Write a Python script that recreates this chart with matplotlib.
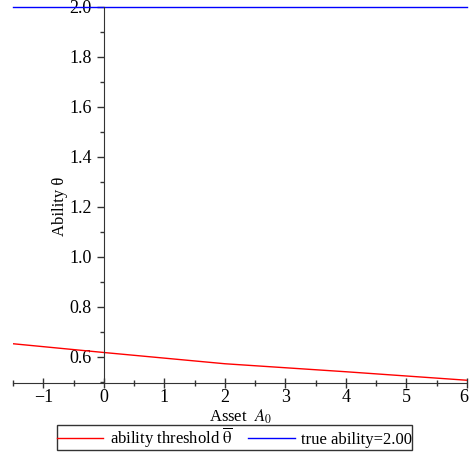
import matplotlib
matplotlib.use("Agg")
import matplotlib.pyplot as plt
import matplotlib.transforms as mtransforms
import numpy as np
from matplotlib.ticker import MultipleLocator, FormatStrFormatter, FuncFormatter

plt.rcParams['font.family'] = ['Liberation Serif', 'DejaVu Serif']
plt.rcParams['mathtext.fontset'] = 'stix'

# data
asset = [-1.5, 0, 2, 4, 6]
threshold = [0.652, 0.617, 0.572, 0.540, 0.506]
true_ability = 2.00

fig = plt.figure(figsize=(4.69, 4.59), dpi=100)
ax = fig.add_axes([13/469, 76/459, 454/469, 376.3/459])

ax.plot(asset, threshold, color='red', lw=1, label=r'ability threshold $\overline{\mathrm{\theta}}$')
ax.axhline(true_ability, color='blue', lw=1, label='true ability=2.00', clip_on=False)

ax.set_xlim(-1.5, 6)
ax.set_ylim(0.495, 2.0)

ax.spines['left'].set_position(('data', 0))
ax.spines['bottom'].set_position(('data', 0.495))
ax.spines['top'].set_visible(False)
ax.spines['right'].set_visible(False)
for s in ('left', 'bottom'):
    ax.spines[s].set_color('#333333')

ax.xaxis.set_major_locator(MultipleLocator(1))
ax.xaxis.set_minor_locator(MultipleLocator(0.5))
ax.yaxis.set_minor_locator(MultipleLocator(0.1))
ax.yaxis.set_major_formatter(FormatStrFormatter('%.1f'))
ax.xaxis.set_major_formatter(FuncFormatter(lambda v, p: f'{int(round(v))}'.replace('-', '\u2212')))
ax.set_yticks([0.6, 0.8, 1.0, 1.2, 1.4, 1.6, 1.8, 2.0])
ax.tick_params(axis='both', which='major', length=5, width=1, labelsize=13, direction='out', color='#333333')
ax.tick_params(axis='both', which='minor', length=3, width=1, direction='out', color='#333333')
ax.tick_params(axis='x', which='major', direction='inout', length=7, pad=1)
ax.tick_params(axis='x', which='minor', direction='inout', length=4)

ax.text(-0.73, 1.2, 'Ability θ', rotation=90, ha='center', va='center', fontsize=12)
ax.set_xlabel(r'Asset  $A_0$', fontsize=12, labelpad=1)

fig.canvas.draw()
offset = mtransforms.ScaledTranslation(-3/100, 0, fig.dpi_scale_trans)
for lbl in ax.get_xticklabels():
    if lbl.get_text() == '6':
        lbl.set_transform(lbl.get_transform() + offset)

leg = fig.legend(loc='center', bbox_to_anchor=(0.5, 1 - 437.5/459), ncol=2, fontsize=12,
                 frameon=True, fancybox=False, edgecolor='black', handlelength=2.8,
                 borderpad=0.0, columnspacing=0.9, handletextpad=0.4)
leg.get_frame().set_linewidth(1)

fig.savefig('out.png', dpi=100)
